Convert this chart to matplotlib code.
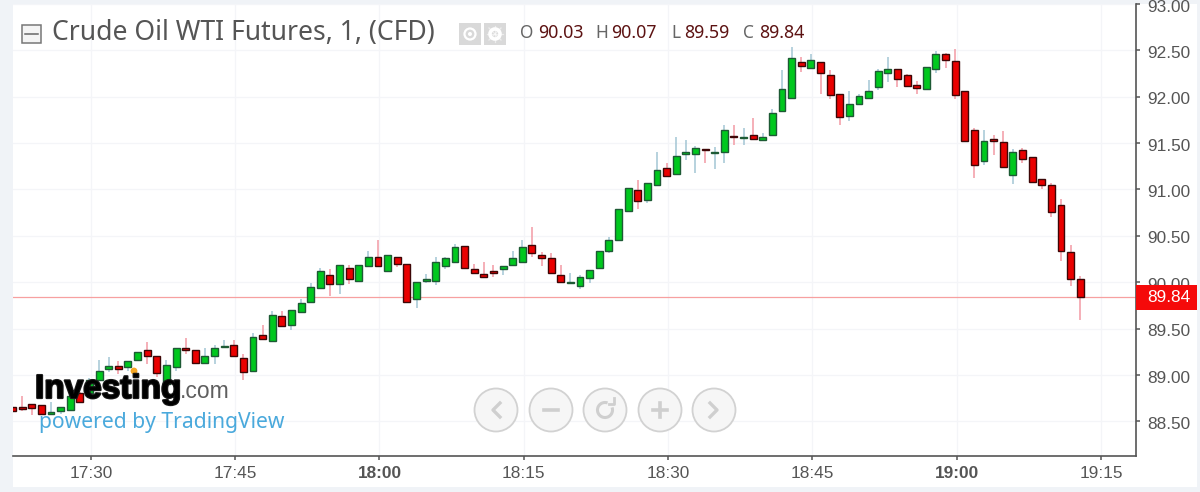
import matplotlib
matplotlib.use("Agg")
import matplotlib.pyplot as plt
import matplotlib.patheffects as pe
from matplotlib.patches import Circle, Rectangle, Arc
from matplotlib.transforms import ScaledTranslation

# minutes relative to 17:30; the first candle is 17:22
first_minute = -8
opens = [88.65, 88.65, 88.69, 88.67, 88.58, 88.61, 88.62, 88.80,
         88.80, 88.95, 89.06, 89.10, 89.09, 89.16, 89.27, 89.20, 88.90, 89.08,
         89.29, 89.27, 89.13, 89.20, 89.30, 89.32, 89.18, 89.04, 89.43, 89.37,
         89.63, 89.54, 89.68, 89.79, 89.94, 90.08, 89.98, 90.15, 90.01, 90.17,
         90.27, 90.12, 90.27, 90.20, 89.82, 90.01, 90.01, 90.17, 90.22, 90.39,
         90.14, 90.09, 90.12, 90.14, 90.19, 90.22, 90.40, 90.29, 90.26, 90.08,
         89.99, 89.96, 90.05, 90.15, 90.34, 90.46, 90.77, 90.99, 90.89, 91.05,
         91.23, 91.17, 91.38, 91.38, 91.44, 91.39, 91.40, 91.58, 91.55, 91.59,
         91.53, 91.59, 91.85, 91.99, 92.37, 92.31, 92.37, 92.23, 92.03, 91.79,
         91.92, 91.99, 92.11, 92.26, 92.30, 92.23, 92.13, 92.08, 92.30, 92.46,
         92.39, 92.06, 91.64, 91.31, 91.54, 91.51, 91.16, 91.42, 91.35, 91.11,
         91.05, 90.83, 90.33, 90.03]
closes = [88.61, 88.63, 88.64, 88.58, 88.60, 88.65, 88.77, 88.71,
          88.95, 89.04, 89.10, 89.06, 89.15, 89.25, 89.20, 89.02, 89.11, 89.29,
          89.27, 89.13, 89.20, 89.29, 89.31, 89.20, 89.03, 89.41, 89.39, 89.65,
          89.53, 89.70, 89.77, 89.95, 90.12, 89.98, 90.19, 90.03, 90.19, 90.27,
          90.17, 90.29, 90.20, 89.79, 90.00, 90.03, 90.22, 90.26, 90.38, 90.15,
          90.10, 90.06, 90.10, 90.17, 90.26, 90.38, 90.31, 90.26, 90.10, 90.00,
          90.00, 90.06, 90.13, 90.34, 90.45, 90.79, 91.02, 90.88, 91.07, 91.21,
          91.14, 91.36, 91.40, 91.45, 91.43, 91.40, 91.64, 91.57, 91.57, 91.54,
          91.57, 91.82, 92.08, 92.42, 92.33, 92.40, 92.26, 92.02, 91.78, 91.92,
          92.01, 92.06, 92.28, 92.30, 92.19, 92.12, 92.09, 92.32, 92.46, 92.40,
          92.02, 91.52, 91.26, 91.52, 91.52, 91.24, 91.40, 91.33, 91.08, 91.05,
          90.76, 90.34, 90.03, 89.84]
highs = [88.65, 88.77, 88.69, 88.67, 88.71, 88.65, 88.77, 88.82,
         88.97, 89.16, 89.19, 89.15, 89.15, 89.25, 89.35, 89.20, 89.16, 89.29,
         89.40, 89.27, 89.29, 89.32, 89.375, 89.375, 89.22, 89.45, 89.54, 89.69,
         89.69, 89.70, 89.82, 89.99, 90.15, 90.14, 90.19, 90.19, 90.19, 90.34,
         90.45, 90.29, 90.27, 90.20, 90.00, 90.09, 90.27, 90.27, 90.41, 90.39,
         90.20, 90.22, 90.19, 90.17, 90.34, 90.45, 90.60, 90.33, 90.31, 90.19,
         90.10, 90.08, 90.13, 90.34, 90.49, 90.79, 91.02, 91.10, 91.07, 91.40,
         91.29, 91.57, 91.53, 91.47, 91.44, 91.46, 91.70, 91.70, 91.66, 91.77,
         91.61, 91.87, 92.29, 92.54, 92.43, 92.46, 92.37, 92.29, 92.03, 92.06,
         92.03, 92.18, 92.30, 92.43, 92.30, 92.24, 92.17, 92.32, 92.49, 92.47,
         92.51, 92.06, 91.66, 91.64, 91.59, 91.63, 91.44, 91.45, 91.35, 91.11,
         91.07, 90.90, 90.40, 90.07]
lows = [88.61, 88.61, 88.57, 88.57, 88.57, 88.58, 88.62, 88.71,
        88.78, 88.93, 89.03, 89.01, 89.04, 89.16, 89.12, 88.98, 88.88, 89.04,
        89.23, 89.13, 89.13, 89.12, 89.30, 89.20, 88.95, 89.04, 89.39, 89.37,
        89.53, 89.48, 89.68, 89.77, 89.94, 89.85, 89.87, 89.98, 90.01, 90.17,
        90.17, 90.12, 90.16, 89.78, 89.72, 89.99, 89.97, 90.14, 90.22, 90.15,
        90.10, 90.06, 90.06, 90.08, 90.19, 90.22, 90.27, 90.17, 90.10, 90.00,
        89.98, 89.93, 89.99, 90.15, 90.31, 90.44, 90.76, 90.79, 90.85, 91.05,
        91.14, 91.17, 91.32, 91.18, 91.29, 91.22, 91.29, 91.48, 91.48, 91.54,
        91.52, 91.59, 91.85, 91.99, 92.27, 92.31, 92.03, 91.98, 91.70, 91.74,
        91.92, 91.99, 92.07, 92.16, 92.10, 92.11, 92.03, 92.08, 92.26, 92.31,
        91.98, 91.52, 91.12, 91.26, 91.37, 91.24, 91.06, 91.29, 91.08, 91.01,
        90.70, 90.23, 89.96, 89.59]
y_ticks = [88.5, 89.0, 89.5, 90.0, 90.5, 91.0, 91.5, 92.0, 92.5, 93.0]
x_tick_minutes = [0, 15, 30, 45, 60, 75, 90, 105]
x_tick_labels = ["17:30", "17:45", "18:00", "18:15", "18:30", "18:45", "19:00", "19:15"]
bold_labels = ["18:00", "19:00"]
title = "Crude Oil WTI Futures, 1, (CFD)"
ohlc_names = ["O", "H", "L", "C"]
ohlc_values = ["90.03", "90.07", "89.59", "89.84"]

W, H = 1200, 492
TEXT = "#555555"
SANS = "Liberation Sans"
fig = plt.figure(figsize=(W / 100, H / 100), dpi=100, facecolor="#f0f3f7")
ax = fig.add_axes([13 / W, 1 - 456 / H, (1136 - 13) / W, (456 - 4) / H], facecolor="white")

# candles
xs = [first_minute + i for i in range(len(opens))]
for x, o, c, h, l in zip(xs, opens, closes, highs, lows):
    up = c >= o
    ax.vlines(x, l, h, color="#a3c6d4" if up else "#f29aa4", lw=1.1, zorder=3)
    ax.bar(x, abs(c - o), bottom=min(o, c), width=0.72,
           color="#00c81e" if up else "#ea0000",
           edgecolor="#1d5a34" if up else "#3d0606", linewidth=1.0, zorder=4)

ax.set_xlim(-7.95, 108.8)
ax.set_ylim(88.125, 92.996)
tick_offset = 0.15
ax.set_xticks([m + tick_offset for m in x_tick_minutes])
ax.set_xticklabels(x_tick_labels, fontsize=12.4, family=SANS, color=TEXT)
for lab in ax.get_xticklabels():
    if lab.get_text() in bold_labels:
        lab.set_fontweight("bold")
ax.set_yticks(y_ticks)
ax.set_yticklabels([f"{v:.2f}" for v in y_ticks], fontsize=12.4, family=SANS, color=TEXT)
ax.yaxis.tick_right()
ax.tick_params(axis="both", length=3, width=1.1, color="#555555")
ax.tick_params(axis="y", pad=5)
ax.tick_params(axis="x", pad=4)
shift = ScaledTranslation(0, -1.2 / 72, fig.dpi_scale_trans)
for lab in ax.get_yticklabels():
    lab.set_transform(lab.get_transform() + shift)
ax.grid(True, color="#f4f5f8", lw=0.9, zorder=0)
ax.set_axisbelow(True)
for side in ("top", "left"):
    ax.spines[side].set_visible(False)
for side in ("bottom", "right"):
    ax.spines[side].set_color("#555555")
    ax.spines[side].set_linewidth(1.2)
ax.axhline(closes[-1], color="#f7a0a0", lw=0.9, zorder=2)

# overlay in pixel coordinates for the chart furniture
ov = fig.add_axes([0, 0, 1, 1], facecolor="none", zorder=10)
ov.set_xlim(0, W)
ov.set_ylim(H, 0)
ov.axis("off")

# white band behind the right scale and x labels
fig.patches.append(Rectangle((1136 / W, 1 - 487 / H), 61 / W, 483 / H, transform=fig.transFigure,
                             facecolor="white", edgecolor="none", zorder=-5))
fig.patches.append(Rectangle((13 / W, 1 - 487 / H), 1123 / W, 31 / H, transform=fig.transFigure,
                             facecolor="white", edgecolor="none", zorder=-5))

# last price tag
ov.add_patch(Rectangle((1136, 285), 61, 25, facecolor="#f50a0a", edgecolor="none"))
ov.text(1147, 298, f"{closes[-1]:.2f}", color="white", fontsize=12.4, family=SANS, va="center", ha="left")

# title row
ov.add_patch(Rectangle((22, 25), 19, 18, facecolor="#f4f4f4", edgecolor="#777777", lw=1.1))
ov.plot([25, 38], [34, 34], color="#666666", lw=1.1)
ov.text(52, 33.5, title, fontsize=19.1, family="Noto Sans", color=TEXT, va="center", ha="left")
ov.add_patch(Rectangle((459, 23), 22, 22, facecolor="#d9d9d9", edgecolor="none"))
ov.add_patch(Rectangle((484, 23), 22, 22, facecolor="#d9d9d9", edgecolor="none"))
ov.add_patch(Circle((470, 34), 5.5, facecolor="none", edgecolor="white", lw=1.6))
ov.add_patch(Circle((470, 34), 2, facecolor="white", edgecolor="none"))
ov.add_patch(Circle((495, 34), 5, facecolor="none", edgecolor="white", lw=2.6))
for x0, y0, x1, y1 in [(495, 26, 495, 42), (487, 34, 503, 34), (489, 28, 501, 40), (489, 40, 501, 28)]:
    ov.plot([x0, x1], [y0, y1], color="white", lw=0.9, alpha=0.55)
for name, val, xn, xv in zip(ohlc_names, ohlc_values, [520, 595, 671, 743], [538, 611, 684, 759]):
    ov.text(xn, 33.5, name, fontsize=12.5, family="Noto Sans", color="#666666", va="center", ha="left")
    ov.text(xv, 33.5, val, fontsize=12.8, family="Noto Sans", color="#5c1212", va="center", ha="left")

# logo
halo = [pe.withStroke(linewidth=1.6, foreground="#1a1a1a")]
ov.text(35, 398, "Investing", fontsize=24, family=SANS, fontweight="bold", color="black",
        va="baseline", ha="left", path_effects=halo)
ov.text(180, 398, ".com", fontsize=16.5, family=SANS, color="#5f5f5f", va="baseline", ha="left")
ov.add_patch(Circle((134, 371), 3.4, facecolor="#f5a623", edgecolor="none"))
ov.text(39, 428, "powered by TradingView", fontsize=15.2, family="Noto Sans", color="#4aa9dc",
        va="baseline", ha="left")

# navigation buttons
ICON = "#cfcfcf"
centers = [496, 551, 605, 660, 714]
for cx in centers:
    ov.add_patch(Circle((cx, 410), 21.5, facecolor="#f6f6f6", edgecolor="#d2d2d2", lw=1.3))
ov.plot([500, 493, 500], [403, 410, 417], color=ICON, lw=2.4)
ov.plot([544, 558], [410, 410], color=ICON, lw=2.6)
ov.add_patch(Arc((605, 410), 15, 15, theta1=-20, theta2=290, color=ICON, lw=2.2))
ov.plot([609, 614, 614], [404, 404, 398], color=ICON, lw=2.0)
ov.plot([653, 667], [410, 410], color=ICON, lw=2.6)
ov.plot([660, 660], [403, 417], color=ICON, lw=2.6)
ov.plot([710, 717, 710], [403, 410, 417], color=ICON, lw=2.4)

fig.savefig("out.png", dpi=100, facecolor=fig.get_facecolor())
